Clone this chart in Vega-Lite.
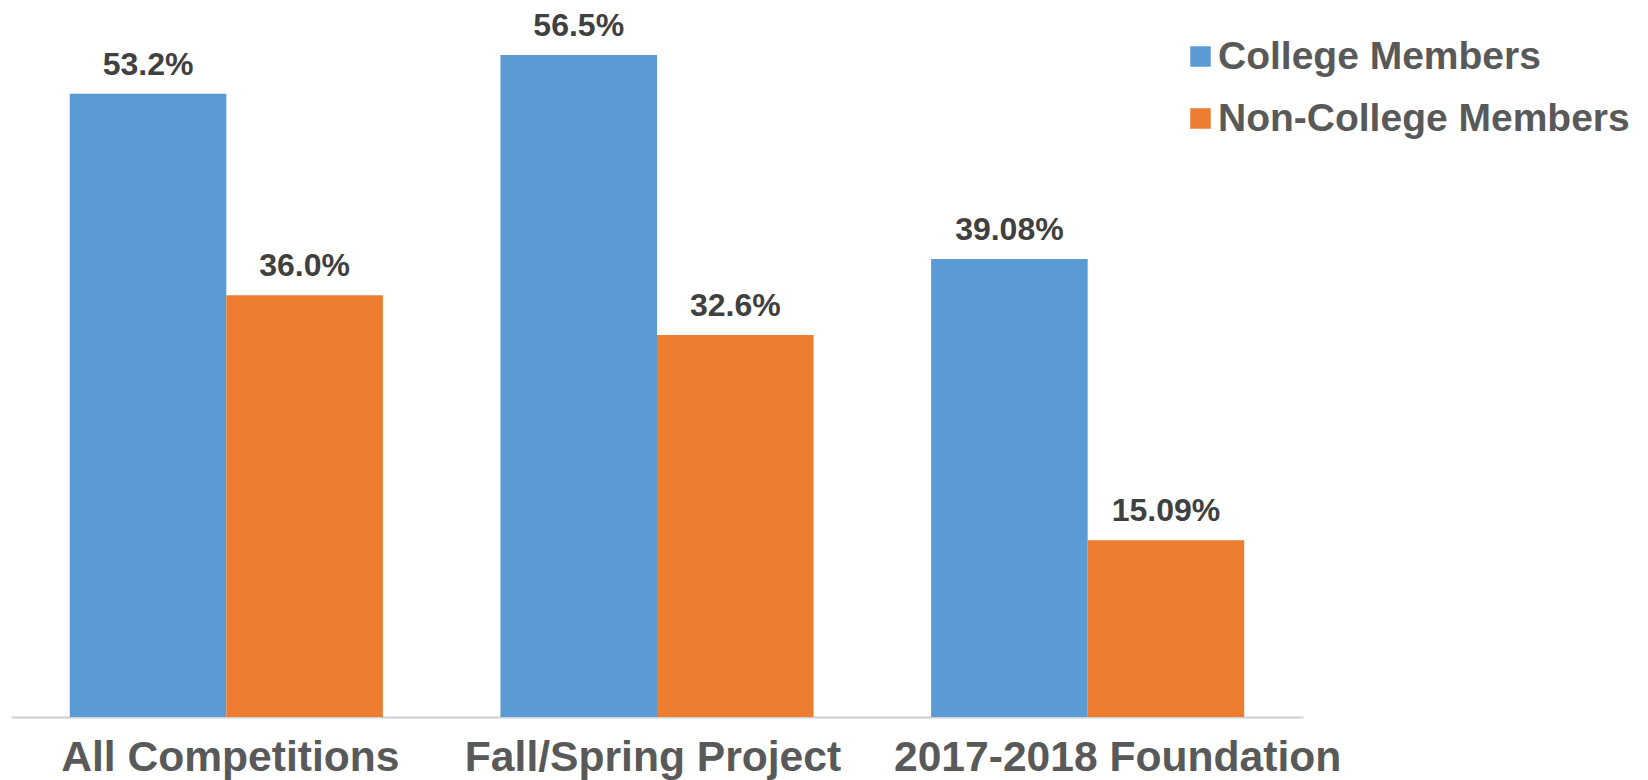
{
  "$schema": "https://vega.github.io/schema/vega-lite/v6.json",
  "autosize": {"type": "none"},
  "width": 1292,
  "height": 703,
  "padding": {"left": 11, "top": 14, "right": 345, "bottom": 63},
  "background": "white",
  "config": {"view": {"stroke": null}, "font": "Liberation Sans"},
  "data": {
    "values": [
      {"category": "All Competitions", "series": "College Members", "value": 53.2, "label": "53.2%"},
      {"category": "All Competitions", "series": "Non-College Members", "value": 36.0, "label": "36.0%"},
      {"category": "Fall/Spring Project", "series": "College Members", "value": 56.5, "label": "56.5%"},
      {"category": "Fall/Spring Project", "series": "Non-College Members", "value": 32.6, "label": "32.6%"},
      {"category": "2017-2018 Foundation", "series": "College Members", "value": 39.08, "label": "39.08%"},
      {"category": "2017-2018 Foundation", "series": "Non-College Members", "value": 15.09, "label": "15.09%"}
    ]
  },
  "encoding": {
    "x": {
      "field": "category", "type": "nominal",
      "sort": ["All Competitions", "Fall/Spring Project", "2017-2018 Foundation"],
      "scale": {"paddingInner": 0.273, "paddingOuter": 0.1365},
      "axis": {
        "title": null, "labelAngle": 0, "ticks": false, "labelLimit": 0,
        "labelFontSize": 42.6, "labelFontWeight": "bold", "labelColor": "#595959",
        "labelFont": "Liberation Sans", "labelPadding": 19,
        "labelOffset": {
          "condition": [
            {"test": "datum.value === '2017-2018 Foundation'", "value": 30},
            {"test": "datum.value === 'Fall/Spring Project'", "value": -4}
          ],
          "value": 4
        },
        "domainColor": "#d0d0d0", "domainWidth": 2
      }
    },
    "xOffset": {
      "field": "series", "type": "nominal",
      "sort": ["College Members", "Non-College Members"],
      "scale": {"paddingInner": 0, "paddingOuter": 0}
    },
    "y": {
      "field": "value", "type": "quantitative",
      "scale": {"domain": [0, 60], "nice": false},
      "axis": null
    }
  },
  "layer": [
    {
      "mark": {"type": "bar"},
      "encoding": {
        "color": {
          "field": "series", "type": "nominal",
          "sort": ["College Members", "Non-College Members"],
          "scale": {"range": ["#5B9BD5", "#ED7D31"]},
          "legend": {
            "title": null, "orient": "none", "legendX": 1170, "legendY": 23,
            "padding": 0, "symbolType": "square", "symbolSize": 420,
            "symbolStrokeWidth": 0, "labelFontSize": 39, "labelFontWeight": "bold",
            "labelColor": "#595959", "labelFont": "Liberation Sans",
            "labelOffset": -2, "rowPadding": 22, "labelLimit": 500
          }
        }
      }
    },
    {
      "mark": {
        "type": "text", "baseline": "alphabetic", "dy": -19,
        "fontSize": 32, "fontWeight": "bold", "color": "#404040",
        "font": "Liberation Sans"
      },
      "encoding": {
        "text": {"field": "label", "type": "nominal"}
      }
    }
  ]
}
